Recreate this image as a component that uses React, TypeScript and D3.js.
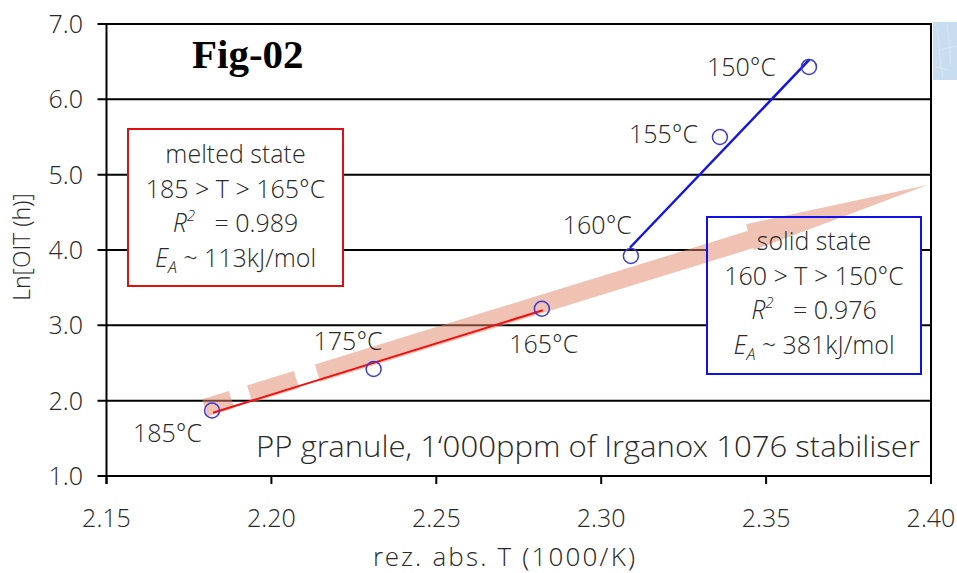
import React from 'react';
import * as d3 from 'd3';

const W = 957;
const H = 573;

// ---- data ----
const xTicks = [2.15, 2.2, 2.25, 2.3, 2.35, 2.4];
const yTicks = [1, 2, 3, 4, 5, 6, 7];
const tempLabels = ['185°C', '175°C', '165°C', '160°C', '155°C', '150°C'];
const invT = [2.182, 2.231, 2.282, 2.309, 2.336, 2.363];
const lnOIT = [1.87, 2.42, 3.22, 3.92, 5.5, 6.43];
const meltedFitX = [2.1823, 2.2823];
const meltedFitY = [1.84, 3.2];
const solidFitX = [2.3087, 2.3632];
const solidFitY = [4.03, 6.53];
const trendArrowX = [2.1798, 2.3989];
const trendArrowY = [1.903, 4.863];
const meltedBox = ['melted state', '185 > T > 165°C', '0.989', '113kJ/mol'];
const solidBox = ['solid state', '160 > T > 150°C', '0.976', '381kJ/mol'];
const xTitle = 'rez. abs. T (1000/K)';
const yTitle = 'Ln[OIT (h)]';
const figTitle = 'Fig-02';
const noteText = 'PP granule, 1‘000ppm of Irganox 1076 stabiliser';

// ---- layout / style ----
const PL = 106.5, PR = 931, PT = 24, PB = 476;
const labelOffsets: [number, number, string][] = [
  [-10, 32, 'end'],
  [9, -19, 'end'],
  [2, 44, 'middle'],
  [1, -22, 'end'],
  [-22, 6, 'end'],
  [-33, 9, 'end'],
];
const FONT = "'Open Sans Light', 'Roboto Light', 'Open Sans', 'Liberation Sans', Arial, sans-serif";
const TXT = '#2a2a2a';

export default function App() {
  const x = d3.scaleLinear().domain([2.15, 2.4]).range([PL, PR]);
  const y = d3.scaleLinear().domain([1, 7]).range([PB, PT]);
  const line = d3.line<[number, number]>().x(d => x(d[0])).y(d => y(d[1]));

  const meltedPts: [number, number][] = meltedFitX.map((v, i) => [v, meltedFitY[i]]);
  const solidPts: [number, number][] = solidFitX.map((v, i) => [v, solidFitY[i]]);

  // arrow
  const A = [x(trendArrowX[0]), y(trendArrowY[0])];
  const T = [x(trendArrowX[1]), y(trendArrowY[1])];
  const len = Math.hypot(T[0] - A[0], T[1] - A[1]);
  const d = [(T[0] - A[0]) / len, (T[1] - A[1]) / len];
  const n = [-d[1], d[0]];
  const headLen = 185;
  const B = [T[0] - d[0] * headLen, T[1] - d[1] * headLen];
  const hTop = 16, hBot = 11;
  const headPoly = [
    [B[0] - n[0] * hTop, B[1] - n[1] * hTop],
    [T[0], T[1]],
    [B[0] + n[0] * hBot, B[1] + n[1] * hBot],
  ];

  const boxes = [
    { lines: meltedBox, x0: 128, y0: 129, x1: 343, y1: 286, color: '#e01010', base: 163 },
    { lines: solidBox, x0: 707, y0: 217, x1: 921, y1: 374, color: '#1010e8', base: 250 },
  ];
  const lh = 34.7;

  return (
    <svg width={W} height={H} style={{ position: 'absolute', left: 0, top: 0, background: '#fff' }}
      fontFamily={FONT}>
      <rect x={0} y={0} width={W} height={H} fill="#fff" />
      {/* corner decoration */}
      <rect x={933} y={22} width={24} height={58} fill="#c8ddef" />
      <path d="M937,28 C940,45 939,60 943,78 M947,24 C948,38 951,50 950,64 M940,50 L956,46 M934,66 L948,70"
        stroke="#dde9f5" strokeWidth={0.8} fill="none" />

      {/* gridlines */}
      {yTicks.map(t => (
        <line key={'g' + t} x1={PL - 9} x2={PR} y1={y(t)} y2={y(t)} stroke="#000" strokeWidth={2} />
      ))}
      <line x1={PL} x2={PL} y1={PT - 1} y2={PB + 8} stroke="#000" strokeWidth={2} />
      <line x1={PR} x2={PR} y1={PT - 1} y2={PB + 8} stroke="#000" strokeWidth={2} />
      {xTicks.map(t => (
        <line key={'xt' + t} x1={x(t)} x2={x(t)} y1={PB} y2={PB + 8} stroke="#000" strokeWidth={2} />
      ))}

      {/* tick labels */}
      {yTicks.map(t => (
        <text key={'yl' + t} x={83} y={y(t)} dy="0.36em" textAnchor="end" fontSize={25}
          fontWeight={300} fill={TXT}>{t.toFixed(1)}</text>
      ))}
      {xTicks.map(t => (
        <text key={'xl' + t} x={x(t)} y={527} textAnchor="middle" fontSize={25}
          fontWeight={300} fill={TXT}>{t.toFixed(2)}</text>
      ))}

      {/* axis titles */}
      <text x={504} y={566} textAnchor="middle" fontSize={26} fontWeight={300} fill={TXT}
        textLength={262} lengthAdjust="spacing">{xTitle}</text>
      <text transform="translate(30,247) rotate(-90)" textAnchor="middle" fontSize={23}
        fontWeight={300} fill={TXT}>{yTitle}</text>

      {/* box fills */}
      {boxes.map((b, i) => (
        <rect key={'bf' + i} x={b.x0} y={b.y0} width={b.x1 - b.x0} height={b.y1 - b.y0} fill="#fff" />
      ))}

      {/* trend arrow */}
      <g opacity={0.5}>
        <line x1={A[0]} y1={A[1]} x2={B[0] + d[0] * 2} y2={B[1] + d[1] * 2} stroke="#e3876a"
          strokeWidth={18} strokeDasharray="28 19 49 22 2000" />
        <polygon points={headPoly.map(p => p.join(',')).join(' ')} fill="#e3876a" />
      </g>

      {/* box strokes & text */}
      {boxes.map((b, i) => {
        const cx = (b.x0 + b.x1) / 2;
        return (
          <g key={'b' + i}>
            <rect x={b.x0} y={b.y0} width={b.x1 - b.x0} height={b.y1 - b.y0} fill="none"
              stroke={b.color} strokeWidth={2} />
            <text x={cx} y={b.base} textAnchor="middle" fontSize={25} fontWeight={300} fill={TXT}>{b.lines[0]}</text>
            <text x={cx} y={b.base + lh} textAnchor="middle" fontSize={25} fontWeight={300} fill={TXT}>{b.lines[1]}</text>
            <text x={cx} y={b.base + 2 * lh} textAnchor="middle" fontSize={25} fontWeight={300} fill={TXT}>
              <tspan fontStyle="italic">R</tspan>
              <tspan fontStyle="italic" fontSize={15} dy={-11}>2</tspan>
              <tspan dy={11}>{'\u00A0\u00A0\u00A0= ' + b.lines[2]}</tspan>
            </text>
            <text x={cx} y={b.base + 3 * lh} textAnchor="middle" fontSize={25} fontWeight={300} fill={TXT}>
              <tspan fontStyle="italic">E</tspan>
              <tspan fontStyle="italic" fontSize={17} dy={6}>A</tspan>
              <tspan dy={-6}>{'\u00A0~ ' + b.lines[3]}</tspan>
            </text>
          </g>
        );
      })}

      {/* fit lines */}
      <path d={line(meltedPts) || ''} stroke="#ee1111" strokeWidth={2} fill="none" />
      <path d={line(solidPts) || ''} stroke="#1515e0" strokeWidth={2.5} fill="none" />

      {/* points */}
      {invT.map((v, i) => (
        <circle key={'c' + i} cx={x(v)} cy={y(lnOIT[i])} r={7.5} fill="none" stroke="#3b3bd0" strokeWidth={1.5} />
      ))}
      {invT.map((v, i) => (
        <text key={'l' + i} x={x(v) + labelOffsets[i][0]} y={y(lnOIT[i]) + labelOffsets[i][1]}
          textAnchor={labelOffsets[i][2] as any} fontSize={25} fontWeight={300} fill={TXT}>{tempLabels[i]}</text>
      ))}

      {/* note & title */}
      <text x={920} y={457} textAnchor="end" fontSize={29} fontWeight={300} fill={TXT}
        textLength={664} lengthAdjust="spacingAndGlyphs">{noteText}</text>
      <text x={192} y={68} fontFamily="'Liberation Serif', 'Times New Roman', serif" fontWeight="bold"
        fontSize={41} fill="#000">{figTitle}</text>
    </svg>
  );
}
